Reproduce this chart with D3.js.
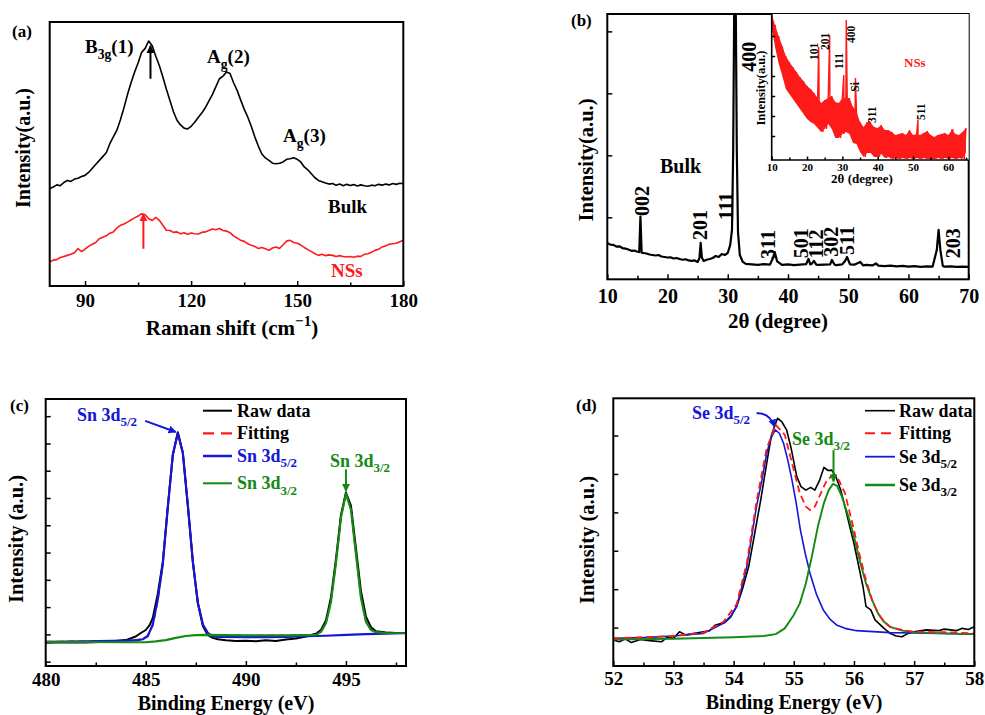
<!DOCTYPE html>
<html>
<head>
<meta charset="utf-8">
<script src="https://cdn.jsdelivr.net/npm/d3@7/dist/d3.min.js"></script>
<style>
body { margin: 0; background: #fff; }
svg text { font-family: "Liberation Serif", "DejaVu Serif", "Times New Roman", serif; font-weight: bold; }
</style>
</head>
<body>
<svg id="fig" width="985" height="715"></svg>
<script>
// ---------- (a) Raman ----------
const ramanX = d3.range(80, 181);
const ramanBulk = [36.9,37.5,38.3,38.0,39.2,40.0,39.6,40.5,40.8,41.5,41.9,43.0,44.5,46.0,47.5,49.0,50.5,53.9,56.5,59.0,
  63.0,67.5,72.5,77.0,81.0,84.5,88.5,90.0,92.8,91.0,87.0,83.5,79.2,74.5,70.3,66.0,62.8,61.0,59.8,59.5,
  60.5,62.0,63.8,65.5,67.5,70.0,72.5,75.5,78.5,79.5,81.1,80.5,77.0,74.1,70.5,67.0,64.0,60.5,56.5,53.0,
  50.0,48.5,47.6,46.5,46.3,46.5,47.0,48.0,48.2,48.6,48.0,47.0,45.1,44.0,42.5,41.0,40.0,39.5,39.0,38.6,
  38.8,38.2,38.6,38.0,38.5,38.1,38.4,37.9,38.3,38.0,37.8,38.2,38.0,38.5,38.2,38.6,38.3,38.8,38.5,38.9,38.8];
const ramanNSs = [9.1,9.8,10.0,10.8,11.2,11.6,12.0,12.6,14.2,13.0,14.0,15.0,15.8,16.5,17.9,18.5,19.0,20.0,20.5,22.0,
  23.0,23.5,24.2,25.0,25.8,26.5,27.4,27.0,25.5,24.8,26.0,24.9,23.0,21.1,21.0,20.3,20.5,19.8,20.2,19.6,
  20.1,19.8,19.7,20.3,20.5,21.0,21.6,21.3,21.8,21.0,20.8,20.2,19.0,18.2,17.3,16.9,16.0,15.4,15.0,14.2,
  14.6,14.1,13.5,14.4,14.8,14.2,15.6,17.0,17.3,16.5,16.2,15.5,14.6,13.8,13.0,12.2,11.6,12.0,11.5,11.8,
  11.6,11.2,11.5,11.2,11.0,11.2,10.9,11.3,11.2,12.0,12.2,12.8,13.5,13.9,14.8,15.2,15.8,16.0,16.2,16.8,17.3];
const ramanTicks = [90, 120, 150, 180];
const ramanMinor = [105, 135, 165];

// ---------- (b) XRD bulk ----------
const xrdX = [10,10.5,11,11.5,12,12.5,13,13.5,14,14.5,15,15.3,15.5,15.7,16,16.5,17,17.5,18,18.5,19,19.5,20,20.5,
  21,21.5,22,22.5,23,23.5,24,24.5,25,25.3,25.5,25.7,26,26.5,27,27.5,28,28.5,29,29.5,30,30.4,30.7,30.9,31.1,31.3,
  31.5,31.7,32,32.5,33,34,35,36,37,37.5,37.8,38.2,39,40,41,42,43,43.4,43.7,44,44.3,44.7,45,46,47,47.3,47.7,48,
  49,49.5,49.8,50.3,51,52,52.5,53,54,54.6,55,55.5,56,57,58,59,60,61,62,63,64,64.7,65,65.3,65.7,66,67,68,69,70];
const xrdBulk = [14.7,14.0,13.9,13.2,13.3,12.6,12.4,12.0,11.5,11.6,11.1,11.0,25.3,10.7,10.6,10.4,10.0,9.8,9.6,9.8,9.2,9.0,8.8,8.9,
  8.4,8.6,8.2,7.9,8.1,7.6,7.4,7.6,7.0,8.6,14.7,8.8,7.4,7.9,8.2,8.6,9.4,9.0,10.2,9.8,10.6,13.8,19.9,52,120,120,
  52,19,9.8,7.0,6.2,6.0,5.8,6.1,5.9,8.6,11.0,7.2,5.8,6.0,5.7,5.9,6.1,8.2,6.0,6.4,7.4,5.9,5.8,5.9,6.0,7.8,6.0,5.7,
  6.0,7.5,9.0,6.0,5.9,7.0,5.6,5.8,5.6,6.4,5.5,5.4,5.3,5.5,5.2,5.4,5.1,5.3,5.0,5.2,5.1,11.8,19.9,11.8,5.4,5.1,5.2,5.0,5.1,5.0];
const xrdTicks = [10, 20, 30, 40, 50, 60, 70];
const xrdMinor = [15, 25, 35, 45, 55, 65];
const xrdYTicks = [25, 50, 75, 100];
const xrdPeaks = ["002", "201", "111", "400", "311", "501", "112", "302", "511", "203"];

// ---------- (b) inset: NSs ----------
const insetX = d3.range(10, 66);
const insetHi = [71,65,60,55,50,47,44.5,42,39.5,37.5,35,33.5,31.5,29,26.5,28,29,30,27,26.5,29,29,29,24.5,22,17,14.5,17,16.5,14.5,
  14,15.5,13,13,12,10.5,11,11.5,10.5,13,10.5,11,10.5,11.5,12.5,10.5,9.5,10.5,11,11.5,10.5,13,11,10.5,12,14];
const insetLo = [64,54,46,40,33.5,31,28.5,26,23.5,21,18.5,17,16,14,12,13.5,16,13.5,9,9,11,12,11,6.5,6,2,-0.5,1.5,1.5,-0.5,
  -0.5,1,-1,-0.5,-1.5,-1,-1.5,-1,-1.5,-1,-1.5,-1,-1.5,-1,-1.5,-1.5,-1.5,-1,-1.5,-1,-1.5,-1,-1.5,-1,-1.5,2];
const insetPeakX = [23.3, 26.4, 30.4, 31.1, 33.7, 37.6, 51.4, 61.3];
const insetPeakY = [54.5, 60.5, 40.5, 68, 39, 17.2, 18, 13];
const insetPeaks = ["101", "201", "111", "400", "Si", "311", "511"];
const insetTicks = [10, 20, 30, 40, 50, 60];
const insetYTicks = [10, 20, 30, 40, 50, 60];

// ---------- (c) Sn 3d XPS ----------
const snRawX = [480,481,482,483,484,484.5,484.75,485,485.2,485.35,485.6,485.85,486.1,486.35,486.6,486.85,487.1,487.35,487.6,487.85,
  488.1,488.35,488.6,489,489.5,490,490.5,491,491.5,492,492.5,493,493.5,493.75,494,494.25,494.5,494.75,495,495.25,495.5,495.75,
  496,496.25,496.5,497,497.5,498];
const snRaw = [6.9,7.1,7.0,7.3,7.9,9.2,10.5,11.6,13.5,16.0,24.9,36.6,56.7,75.8,84.1,76.7,57.2,36.6,21.4,13.1,
  9.7,8.7,8.2,7.8,7.6,7.7,7.5,7.8,7.6,8.1,8.5,9.2,10.2,11.6,15.1,23.4,37.6,53.7,62.0,57.2,41.5,25.8,
  16.5,12.6,11.1,10.7,10.5,10.5];
const sn52X = [480,482,484,484.6,484.85,485.1,485.35,485.6,485.85,486.1,486.35,486.6,486.85,487.1,487.35,487.6,487.85,488.1,488.35,
  488.6,489,490,491,492,493,494,495,496,497,498];
const sn52 = [7.3,7.4,7.7,7.9,8.2,9.4,13.6,22.9,35.7,56.5,75.8,83.7,76.5,57.5,36.7,21.7,13.7,10.4,9.3,
  9.1,9.1,9.0,9.0,9.1,9.3,9.5,9.8,10.1,10.3,10.5];
const sn32X = [480,482,484,485,485.5,486,486.5,487,487.5,488,490,492,493.5,493.75,494,494.25,494.5,494.75,495,495.25,495.5,495.75,
  496,496.25,496.5,497,498];
const sn32 = [7.2,7.2,7.1,7.1,7.4,7.9,8.7,9.4,9.7,9.8,9.6,9.6,9.8,10.9,14.1,21.9,36.1,52.8,61.6,55.7,39.5,23.4,
  14.6,11.6,10.8,10.5,10.4];
const snFitX = [480,484,484.85,485.1,485.35,485.6,485.85,486.1,486.35,486.6,486.85,487.1,487.35,487.6,487.85,488.1,488.35,489,
  492,493.5,493.75,494,494.25,494.5,494.75,495,495.25,495.5,495.75,496,496.25,496.5,497,498];
const snFit = [7.3,7.6,8.2,9.5,13.3,22.4,35.9,56.6,75.8,83.8,76.5,57.4,36.8,21.8,13.9,10.6,9.7,9.5,
  9.6,9.9,11.0,14.3,22.2,36.4,53.0,61.8,55.9,39.7,23.6,14.8,11.8,10.9,10.6,10.5];
const snTicks = [480, 485, 490, 495];
const snMinor = [482.5, 487.5, 492.5, 497.5];
const snYTicks = [0, 10, 20, 30, 40, 50, 60, 70, 80, 90];

// ---------- (d) Se 3d XPS ----------
const seRawX = [52,52.1,52.2,52.3,52.45,52.6,52.8,52.9,53,53.1,53.2,53.35,53.5,53.6,53.7,53.85,53.95,54.05,54.15,54.25,54.35,
  54.45,54.55,54.63,54.73,54.8,54.88,54.95,55.05,55.12,55.2,55.28,55.35,55.43,55.5,55.57,55.63,55.7,55.78,55.85,55.93,
  56,56.08,56.15,56.2,56.28,56.35,56.5,56.6,56.7,56.8,56.9,57,57.2,57.4,57.5,57.7,57.8,57.9,58];
const seRaw = [6.8,6.3,7.1,6.1,6.9,6.6,6.3,7.5,7.2,8.9,8.1,8.5,8.9,9.2,10.7,11.3,12.7,15.5,20.2,25.9,34.5,
  43.2,52.8,60.2,64.5,63.6,61.5,57.1,49.3,46.7,45.8,46.5,45.8,48.4,51.7,50.9,51.0,49.3,45.8,41.5,36.3,
  31.9,25.9,20.7,15.5,14.6,12.0,9.8,8.5,7.8,7.6,8.5,8.9,9.4,9.2,9.6,9.2,9.8,9.5,10.2];
const se52X = [52,52.5,53,53.5,53.83,53.95,54.05,54.13,54.22,54.3,54.38,54.47,54.55,54.62,54.69,54.76,54.83,54.9,54.97,
  55.04,55.11,55.19,55.27,55.38,55.49,55.6,55.71,55.85,56.04,56.6,57,58];
const se52 = [7.2,7.4,7.8,8.5,11.1,13.0,15.5,20.2,25.9,33.7,41.5,48.4,55.4,59.3,61.5,60.6,58.0,53.6,48.4,
  42.4,35.4,29.3,24.1,18.5,14.6,12.2,10.7,9.8,9.2,8.7,8.6,8.3];
const se32X = [52,53,54,54.5,54.7,54.85,55,55.1,55.2,55.3,55.4,55.5,55.58,55.65,55.72,55.8,55.9,56,56.1,56.2,56.3,56.4,
  56.5,56.6,56.8,57,57.5,58];
const se32 = [6.9,7.1,7.5,7.8,8.3,9.8,13.3,16.3,21.5,28.5,36.3,42.4,45.8,47.4,46.9,44.1,39.3,33.7,27.2,21.5,17.2,13.7,
  11.5,10.2,9.2,8.8,8.5,8.3];
const seFitX = [52,53,53.5,53.83,54.05,54.22,54.38,54.55,54.7,54.85,54.97,55.1,55.2,55.27,55.35,55.45,55.55,55.65,55.75,
  55.85,56,56.1,56.2,56.3,56.4,56.5,56.6,56.8,57,57.5,58];
const seFit = [7.2,7.8,8.7,11.5,16.1,26.9,42.8,56.7,62.8,60.2,52.8,45.0,41.5,40.6,41.5,45.0,48.4,49.7,48.4,
  45.0,35.4,28.5,22.4,17.2,13.7,11.5,10.2,9.4,8.9,8.8,8.5];
const seTicks = [52, 53, 54, 55, 56, 57, 58];
const seMinor = [52.5, 53.5, 54.5, 55.5, 56.5, 57.5];
const seYTicks = [10, 20, 30, 40, 50, 60];

// ---------- drawing ----------
const FONT = '"Liberation Serif", "DejaVu Serif", "Times New Roman", serif';
const RED = "#ff1a1a", BLUE = "#1616d8", GREEN = "#138a13";
const svg = d3.select("#fig").attr("font-family", FONT).attr("font-weight", "bold");
const defs = svg.append("defs");

function marker(id, color) {
  defs.append("marker").attr("id", id).attr("viewBox", "0 0 10 10")
    .attr("refX", 9).attr("refY", 5).attr("markerWidth", 4).attr("markerHeight", 4)
    .attr("orient", "auto-start-reverse").attr("markerUnits", "strokeWidth")
    .append("path").attr("d", "M0,0L10,5L0,10z").attr("fill", color);
}
marker("arK", "#000"); marker("arR", RED); marker("arB", BLUE); marker("arG", GREEN);

let clipN = 0;
function panel(l, t, r, b, xd, yd) {
  const x = d3.scaleLinear().domain(xd).range([l, r]);
  const y = d3.scaleLinear().domain(yd).range([b, t]);
  const id = "clip" + (clipN++);
  defs.append("clipPath").attr("id", id).append("rect")
    .attr("x", l).attr("y", t).attr("width", r - l).attr("height", b - t);
  const g = svg.append("g");
  const plot = g.append("g").attr("clip-path", `url(#${id})`);
  return { x, y, g, plot, l, t, r, b };
}

function frame(p, w) {
  p.g.append("rect").attr("x", p.l).attr("y", p.t).attr("width", p.r - p.l).attr("height", p.b - p.t)
    .attr("fill", "none").attr("stroke", "#000").attr("stroke-width", w || 2);
}

function xAxis(p, major, minor, size, pad, len) {
  len = len || 5;
  p.g.append("g").attr("transform", `translate(0,${p.b})`)
    .call(d3.axisBottom(p.x).tickValues(major).tickSize(-len).tickPadding(pad).tickFormat(d3.format("d")))
    .call(a => a.select(".domain").remove())
    .call(a => a.selectAll("line").attr("stroke-width", 1.5))
    .attr("font-family", FONT).attr("font-weight", "bold").attr("font-size", size);
  if (minor) p.g.append("g").attr("transform", `translate(0,${p.b})`)
    .call(d3.axisBottom(p.x).tickValues(minor).tickSize(-len * 0.7).tickFormat(""))
    .call(a => a.select(".domain").remove())
    .call(a => a.selectAll("line").attr("stroke-width", 1.5));
}

function yAxis(p, ticks, len) {
  p.g.append("g").attr("transform", `translate(${p.l},0)`)
    .call(d3.axisLeft(p.y).tickValues(ticks).tickSize(-(len || 5)).tickFormat(""))
    .call(a => a.select(".domain").remove())
    .call(a => a.selectAll("line").attr("stroke-width", 1.5));
}

function curve(p, xs, ys, color, w, dash) {
  const line = d3.line().x((d, i) => p.x(xs[i])).y(d => p.y(d));
  const path = p.plot.append("path").datum(ys).attr("d", line)
    .attr("fill", "none").attr("stroke", color).attr("stroke-width", w)
    .attr("stroke-linejoin", "round");
  if (dash) path.attr("stroke-dasharray", dash);
  return path;
}

// rich text: parts = [[string, "sub"|"sup"|null]]
function rich(sel, x, y, parts, size, color, anchor) {
  const t = sel.append("text").attr("x", x).attr("y", y).attr("font-size", size)
    .attr("fill", color || "#000").attr("text-anchor", anchor || "start");
  let shift = 0;
  parts.forEach(([s, k]) => {
    const want = k === "sub" ? 0.3 * size : k === "sup" ? -0.45 * size : 0;
    t.append("tspan").attr("dy", want - shift).attr("font-size", k ? size * 0.72 : size).text(s);
    shift = want;
  });
  return t;
}

function yTitle(sel, cx, cy, text, size) {
  sel.append("text").attr("transform", `translate(${cx},${cy}) rotate(-90)`)
    .attr("text-anchor", "middle").attr("font-size", size).text(text);
}

function vLabel(sel, cx, by, text, size, color) {
  sel.append("text").attr("transform", `translate(${cx + 0.33 * size},${by}) rotate(-90)`)
    .attr("font-size", size).attr("fill", color || "#000").text(text);
}

function arrow(p, x0, y0, x1, y1, color, id, w) {
  p.g.append("line").attr("x1", p.x(x0)).attr("y1", p.y(y0)).attr("x2", p.x(x1)).attr("y2", p.y(y1))
    .attr("stroke", color).attr("stroke-width", w || 2).attr("marker-end", `url(#${id})`);
}

// ===== (a) =====
const pa = panel(49.7, 22, 403.3, 286, [80, 180], [0, 100]);
curve(pa, ramanX, ramanBulk, "#000", 1.6);
curve(pa, ramanX, ramanNSs, RED, 1.6);
xAxis(pa, ramanTicks, ramanMinor, 19, 8);
frame(pa);
arrow(pa, 108.5, 78.5, 108.5, 91, "#000", "arK", 2);
arrow(pa, 106.5, 14.1, 106.5, 27.3, RED, "arR", 2);
rich(pa.g, 85, 53, [["B", null], ["3g", "sub"], ["(1)", null]], 19);
rich(pa.g, 207, 63, [["A", null], ["g", "sub"], ["(2)", null]], 19);
rich(pa.g, 283, 142, [["A", null], ["g", "sub"], ["(3)", null]], 19);
pa.g.append("text").attr("x", 328).attr("y", 213).attr("font-size", 19).text("Bulk");
pa.g.append("text").attr("x", 331).attr("y", 277).attr("font-size", 19).attr("fill", RED).text("NSs");
rich(pa.g, 232, 335, [["Raman shift (cm", null], ["\u22121", "sup"], [")", null]], 21, "#000", "middle");
yTitle(pa.g, 30, 148, "Intensity(a.u.)", 20);
pa.g.append("text").attr("x", 12).attr("y", 37).attr("font-size", 17).text("(a)");

// ===== (b) =====
const pb = panel(607.3, 14, 968.7, 279.3, [10, 70], [0, 107]);
curve(pb, xrdX, xrdBulk, "#000", 2.2);
xAxis(pb, xrdTicks, xrdMinor, 20, 10);
yAxis(pb, xrdYTicks, 5);
frame(pb);
const bLab = [[642.5, 216], [700, 240], [726, 220], [749, 71.7], [768, 259], [801.7, 258.3], [816.7, 258.3], [831.7, 256.7], [847.5, 255], [953, 258.3]];
xrdPeaks.forEach((s, i) => vLabel(pb.g, bLab[i][0], bLab[i][1], s, 20));
pb.g.append("text").attr("x", 660).attr("y", 172.5).attr("font-size", 20).text("Bulk");
pb.g.append("text").attr("x", 778).attr("y", 328).attr("text-anchor", "middle").attr("font-size", 21).text("2\u03b8 (degree)");
yTitle(pb.g, 593, 160, "Intensity(a.u.)", 20.5);
pb.g.append("text").attr("x", 571).attr("y", 26).attr("font-size", 17).text("(b)");

// inset
const pi = panel(771.7, 14, 968.7, 160, [10, 65.76], [-2, 71]);
pi.g.insert("rect", ":first-child").attr("x", pi.l).attr("y", pi.t).attr("width", pi.r - pi.l).attr("height", pi.b - pi.t).attr("fill", "#fff");
pi.plot.append("path").datum(insetX)
  .attr("d", d3.area().x(d => pi.x(d)).y0((d, i) => pi.y(insetLo[i])).y1((d, i) => pi.y(insetHi[i])))
  .attr("fill", RED);
const insetPts = [];
insetX.forEach((v, i) => {
  insetPts.push([v, insetHi[i]]);
  if (i < insetX.length - 1) insetPts.push([v + 0.5, insetLo[i]]);
});
insetPeakX.forEach((v, i) => insetPts.push([v, insetPeakY[i]]));
insetPts.sort((a, b) => a[0] - b[0]);
pi.plot.append("path").datum(insetPts)
  .attr("d", d3.line().x(d => pi.x(d[0])).y(d => pi.y(d[1])))
  .attr("fill", "none").attr("stroke", RED).attr("stroke-width", 1.4);
xAxis(pi, insetTicks, [15, 25, 35, 45, 55, 65], 11, 3, 3.5);
yAxis(pi, insetYTicks, 3.5);
pi.g.append("path").attr("d", `M${pi.l},${pi.t}V${pi.b}H${pi.r}`).attr("fill", "none").attr("stroke", "#000").attr("stroke-width", 1.6);
const iLab = [[814, 60], [825, 50], [839.5, 69], [851.7, 43], [855.3, 91.7], [872, 123], [921.7, 120]];
insetPeaks.forEach((s, i) => vLabel(pi.g, iLab[i][0], iLab[i][1], s, 11.5));
pi.g.append("text").attr("x", 904).attr("y", 67).attr("font-size", 13).attr("fill", RED).text("NSs");
pi.g.append("text").attr("x", 862).attr("y", 183).attr("text-anchor", "middle").attr("font-size", 13).text("2\u03b8 (degree)");
yTitle(pi.g, 765, 88, "Intensity(a.u.)", 12.5);

// ===== (c) =====
const pc = panel(45.7, 399, 406, 666, [480, 498], [-1.6, 96.3]);
curve(pc, snFitX, snFit, RED, 1.8, "7,4");
curve(pc, snRawX, snRaw, "#000", 2);
curve(pc, sn52X, sn52, BLUE, 2.2);
curve(pc, sn32X, sn32, GREEN, 2.2);
xAxis(pc, snTicks, snMinor, 19, 7);
yAxis(pc, snYTicks, 5);
frame(pc);
arrow(pc, 484.97, 88.3, 486.5, 84.2, BLUE, "arB", 2);
arrow(pc, 495.0, 70.5, 495.0, 62.5, GREEN, "arG", 2);
rich(pc.g, 77, 421, [["Sn 3d", null], ["5/2", "sub"]], 18, BLUE);
rich(pc.g, 330, 467, [["Sn 3d", null], ["3/2", "sub"]], 18, GREEN);
const legC = [
  { parts: [["Raw data", null]], color: "#000", tc: "#000", dash: null, w: 2, y: 410.7 },
  { parts: [["Fitting", null]], color: RED, tc: "#000", dash: "11,7", w: 2.2, y: 433.3 },
  { parts: [["Sn 3d", null], ["5/2", "sub"]], color: BLUE, tc: BLUE, dash: null, w: 2.5, y: 456 },
  { parts: [["Sn 3d", null], ["3/2", "sub"]], color: GREEN, tc: GREEN, dash: null, w: 2, y: 483.3 }
];
legC.forEach(d => {
  const ln = pc.g.append("line").attr("x1", 203).attr("x2", 232).attr("y1", d.y).attr("y2", d.y)
    .attr("stroke", d.color).attr("stroke-width", d.w);
  if (d.dash) ln.attr("stroke-dasharray", d.dash);
  rich(pc.g, 237, d.y + 6, d.parts, 18, d.tc);
});
pc.g.append("text").attr("x", 226).attr("y", 710).attr("text-anchor", "middle").attr("font-size", 20).text("Binding Energy (eV)");
yTitle(pc.g, 23, 539, "Intensity (a.u.)", 20.5);
pc.g.append("text").attr("x", 10).attr("y", 411).attr("font-size", 17).text("(c)");

// ===== (d) =====
const pd = panel(613.3, 398.3, 974.3, 666, [52, 58], [0, 69.7]);
curve(pd, seRawX, seRaw, "#000", 1.6);
curve(pd, se52X, se52, BLUE, 1.6);
curve(pd, se32X, se32, GREEN, 1.9);
curve(pd, seFitX, seFit, RED, 1.8, "7,4");
xAxis(pd, seTicks, seMinor, 19, 6);
yAxis(pd, seYTicks, 5);
frame(pd);
pd.g.append("path")
  .attr("d", `M${pd.x(54.38)},${pd.y(65.8)}Q${pd.x(54.6)},${pd.y(66)} ${pd.x(54.68)},${pd.y(62.3)}`)
  .attr("fill", "none").attr("stroke", BLUE).attr("stroke-width", 2).attr("marker-end", "url(#arB)");
arrow(pd, 55.66, 56.2, 55.66, 48.0, GREEN, "arG", 2);
rich(pd.g, 692, 419, [["Se 3d", null], ["5/2", "sub"]], 18, BLUE);
rich(pd.g, 792, 445, [["Se 3d", null], ["3/2", "sub"]], 18, GREEN);
const legD = [
  { parts: [["Raw data", null]], color: "#000", dash: null, w: 1.6, y: 410.7 },
  { parts: [["Fitting", null]], color: RED, dash: "10,6", w: 2, y: 433.3 },
  { parts: [["Se 3d", null], ["5/2", "sub"]], color: BLUE, dash: null, w: 1.8, y: 456.7 },
  { parts: [["Se 3d", null], ["3/2", "sub"]], color: GREEN, dash: null, w: 2.5, y: 485 }
];
legD.forEach(d => {
  const ln = pd.g.append("line").attr("x1", 865).attr("x2", 895).attr("y1", d.y).attr("y2", d.y)
    .attr("stroke", d.color).attr("stroke-width", d.w);
  if (d.dash) ln.attr("stroke-dasharray", d.dash);
  rich(pd.g, 899, d.y + 6, d.parts, 18, "#000");
});
pd.g.append("text").attr("x", 794).attr("y", 709).attr("text-anchor", "middle").attr("font-size", 20).text("Binding Energy (eV)");
yTitle(pd.g, 594, 540, "Intensity (a.u.)", 20.5);
pd.g.append("text").attr("x", 576).attr("y", 411).attr("font-size", 17).text("(d)");
</script>
</body>
</html>
